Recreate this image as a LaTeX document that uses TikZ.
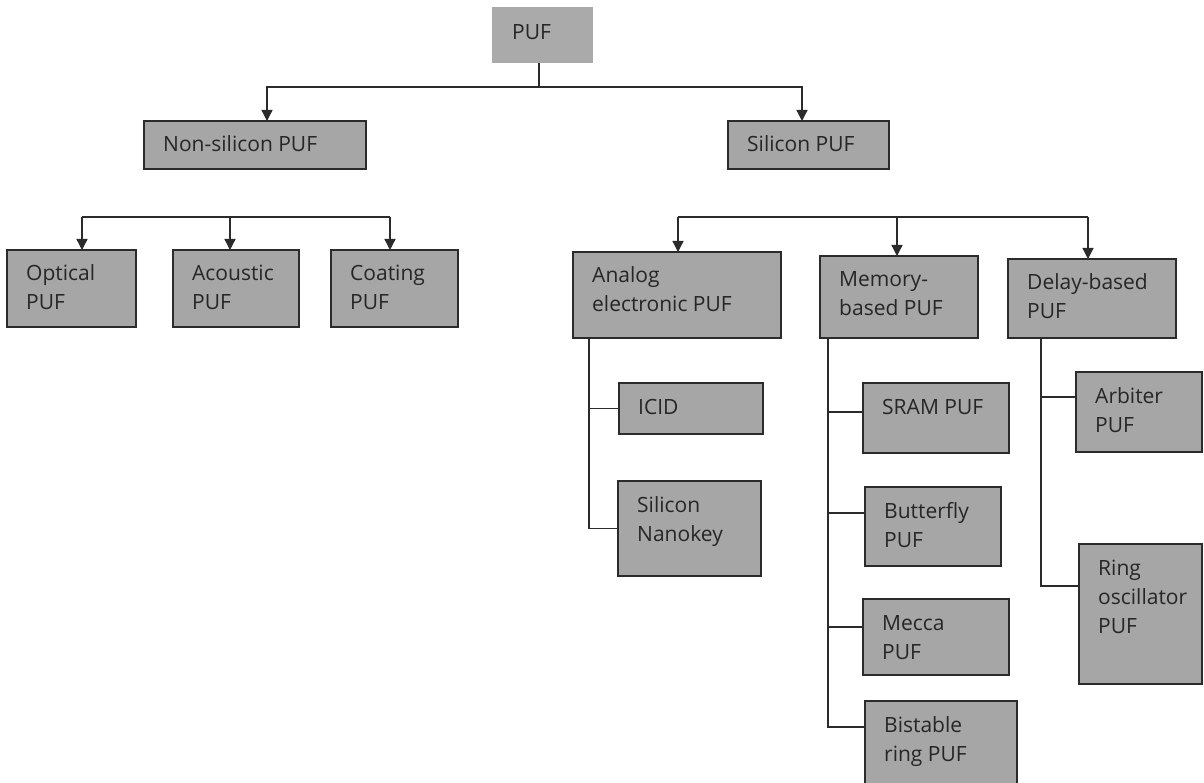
\documentclass[tikz,border=0pt]{standalone}
\usepackage{fontspec}
\setmainfont{Open Sans}
\usetikzlibrary{arrows.meta}

\definecolor{boxfill}{HTML}{A6A6A6}
\definecolor{boxline}{HTML}{2B2B2B}
\definecolor{ink}{HTML}{262626}

% left-aligned stack of lines whose baseline is that of the first line
\newcommand{\stack}[1]{\begin{tabular}[t]{@{}l@{}}#1\end{tabular}}

% \pufbox{name}{x1}{y1}{x2}{y2}{text}: grey box with its text set at the top left
\newcommand{\pufbox}[6]{%
  \node[pbox, minimum width=#4pt-#2pt, minimum height=#5pt-#3pt] (#1) at (#2,#3) {};
  \node[ptext] (#1-t) at ([xshift=19pt,yshift=-31pt]#1.north west) {\stack{#6}};}

\tikzset{
  pbox/.style={rectangle, draw=boxline, line width=1.3pt, fill=boxfill,
               inner sep=0pt, outer sep=0pt, anchor=north west},
  ptext/.style={anchor=base west, inner sep=0pt, text=ink,
                font=\fontsize{21}{29}\selectfont},
  link/.style={draw=boxline, line width=1.3pt},
  arr/.style={link, -{Triangle[width=11pt,length=11pt]}},
}

\begin{document}
\begin{tikzpicture}[x=1pt,y=-1pt]
\useasboundingbox (0,0) rectangle (1204,783);
\clip (0,0) rectangle (1204,783);

% root
\node[rectangle, fill=boxfill!95!white, inner sep=0pt, anchor=north west,
      minimum width=101pt, minimum height=56pt] (root) at (492,7) {};
\node[ptext] (root-t) at ([xshift=20pt,yshift=-33pt]root.north west) {PUF};

% first level
\pufbox{nonsi}{144}{121}{366}{169}{Non-silicon PUF}
\pufbox{si}{728}{121}{889}{169}{Silicon PUF}

% non-silicon family
\pufbox{optical}{7}{250}{136}{327}{Optical\\PUF}
\pufbox{acoustic}{173}{250}{299}{327}{Acoustic\\PUF}
\pufbox{coating}{331}{250}{458}{327}{Coating\\PUF}

% silicon family
\pufbox{analog}{573}{252}{781}{338}{Analog\\electronic PUF}
\pufbox{memory}{820}{256}{978}{338}{Memory-\\based PUF}
\pufbox{delay}{1008}{259}{1176}{338}{Delay-based\\PUF}

% analog electronic PUFs
\pufbox{icid}{619}{383}{763}{434}{ICID}
\pufbox{nanokey}{618}{481}{761}{576}{Silicon\\Nanokey}

% memory-based PUFs
\pufbox{sram}{863}{383}{1009}{453}{SRAM PUF}
\pufbox{butterfly}{865}{487}{1001}{566}{Butterfly\\PUF}
\pufbox{mecca}{863}{599}{1009}{675}{Mecca\\PUF}
\pufbox{bistable}{865}{701}{1017}{795}{Bistable\\ring PUF}

% delay-based PUFs
\pufbox{arbiter}{1076}{372}{1202}{452}{Arbiter\\PUF}
\pufbox{ring}{1079}{544}{1202}{684}{Ring\\oscillator\\PUF}

% root to first level
\coordinate (tj) at (539,87);
\draw[link] (tj |- root.south) -- (tj);
\draw[arr] (tj) -| ([xshift=12pt]nonsi.north);
\draw[arr] (tj) -| ([xshift=-6.5pt]si.north);

% bus over the non-silicon family
\coordinate (lb1) at (82,217);
\coordinate (lb2) at (230,217);
\coordinate (lb3) at (390,217);
\draw[link] (lb1) -- (lb3);
\draw[arr] (lb1) -- (lb1 |- optical.north);
\draw[arr] (lb2) -- (lb2 |- acoustic.north);
\draw[arr] (lb3) -- (lb3 |- coating.north);

% bus over the silicon family
\coordinate (rb1) at (678,217);
\coordinate (rb2) at (897,217);
\coordinate (rb3) at (1088,217);
\draw[link] (rb1) -- (rb3);
\draw[arr] (rb1) -- (rb1 |- analog.north);
\draw[arr] (rb2) -- (rb2 |- memory.north);
\draw[arr] (rb3) -- (rb3 |- delay.north);

% trunks and branches
\draw[link] ([xshift=-88pt]analog.south) |- (icid.west);
\draw[link] ([xshift=-88pt]analog.south) |- (nanokey.west);

\draw[link] ([xshift=-71pt]memory.south) |- ([yshift=6pt]sram.west);
\draw[link] ([xshift=-71pt]memory.south) |- ([yshift=13.5pt]butterfly.west);
\draw[link] ([xshift=-71pt]memory.south) |- ([yshift=10pt]mecca.west);
\draw[link] ([xshift=-71pt]memory.south) |- ([yshift=21pt]bistable.west);

\draw[link] ([xshift=-51pt]delay.south) |- ([yshift=15pt]arbiter.west);
\draw[link] ([xshift=-51pt]delay.south) |- ([yshift=28pt]ring.west);
\end{tikzpicture}
\end{document}
